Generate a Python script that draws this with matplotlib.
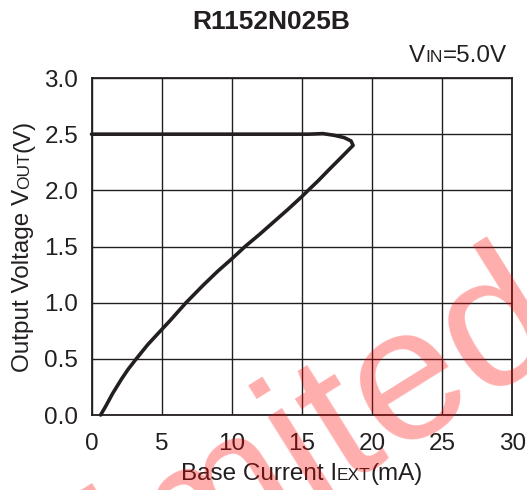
import matplotlib
matplotlib.use('Agg')
import matplotlib.pyplot as plt

plt.rcParams['font.family'] = ['Liberation Sans', 'DejaVu Sans']

# Output voltage vs base current
i_ext = [0.65, 1.0, 1.5, 2.14, 2.6, 3.16, 4.0, 5.0, 5.6, 6.74, 8.0, 9.0, 10.0, 10.95,
         12.0, 13.0, 14.0, 15.0, 15.45, 16.2, 16.9, 17.7, 18.45, 18.65, 18.5,
         18.0, 17.3, 16.5, 15.5, 10.0, 5.0, 0.0]
v_out = [0.0, 0.075, 0.19, 0.32, 0.405, 0.495, 0.625, 0.76, 0.84, 1.0, 1.16, 1.28, 1.39, 1.50,
         1.61, 1.72, 1.83, 1.945, 2.0, 2.09, 2.18, 2.28, 2.375, 2.40, 2.44,
         2.47, 2.49, 2.505, 2.50, 2.50, 2.50, 2.50]

x_ticks = [0, 5, 10, 15, 20, 25, 30]
y_ticks = [0.0, 0.5, 1.0, 1.5, 2.0, 2.5, 3.0]

W, H = 527, 490
FS = 17.5

fig = plt.figure(figsize=(W / 100, H / 100), dpi=100)
ax = fig.add_axes([91.5 / W, 1 - 415 / H, (512.3 - 91.5) / W, (415 - 78) / H])

ax.plot(i_ext, v_out, color='#231f20', lw=2.6, solid_joinstyle='round',
        solid_capstyle='round', clip_on=False, zorder=3)

ax.set_xlim(0, 30)
ax.set_ylim(0, 3.0)
ax.set_xticks(x_ticks)
ax.set_yticks(y_ticks)
ax.set_yticklabels(['%.1f' % v for v in y_ticks])
ax.tick_params(length=0, labelsize=FS, colors='#231f20')
ax.tick_params(axis='y', pad=9.5)
ax.tick_params(axis='x', pad=13)
ax.grid(True, color='#231f20', lw=1.0)
for s in ax.spines.values():
    s.set_linewidth(1.3)
    s.set_color('#231f20')

renderer = fig.canvas.get_renderer()


def widths_of(parts):
    ws = []
    for txt, size in parts:
        t = fig.text(0, 0, txt, fontsize=size)
        ws.append(t.get_window_extent(renderer).width)
        t.remove()
    return ws


# text with small-caps style pieces (e.g. V + OUT); x, y in pixels from bottom-left
def rich_text(x, y, parts, rotation=0, align='center'):
    ws = widths_of(parts)
    pos = -sum(ws) / 2 if align == 'center' else -sum(ws)
    for (txt, size), w in zip(parts, ws):
        if rotation == 90:
            px, py = x, y + pos
        else:
            px, py = x + pos, y
        fig.text(px / W, py / H, txt, fontsize=size, color='#231f20',
                 ha='left', va='baseline', rotation=rotation, rotation_mode='anchor')
        pos += w


rich_text(302, H - 480, [('Base Current I', FS), ('EXT', 12.5), ('(mA)', FS)])
rich_text(29, H - 246, [('Output Voltage V', FS), ('OUT', 12.5), ('(V)', FS)], rotation=90)
rich_text(507, H - 62, [('V', FS), ('IN', 12.5), ('=5.0V', FS)], align='right')

fig.text(271 / W, 1 - 22 / H, 'R1152N025B', fontsize=19, fontweight='bold',
         ha='center', va='center', color='#231f20')

# red watermark over everything
fig.text(0.092, -0.351, 'Limited', rotation=32, rotation_mode='anchor',
         ha='left', va='baseline', fontsize=137, color='red', alpha=0.32,
         zorder=100)

fig.savefig('out.png', dpi=100)
